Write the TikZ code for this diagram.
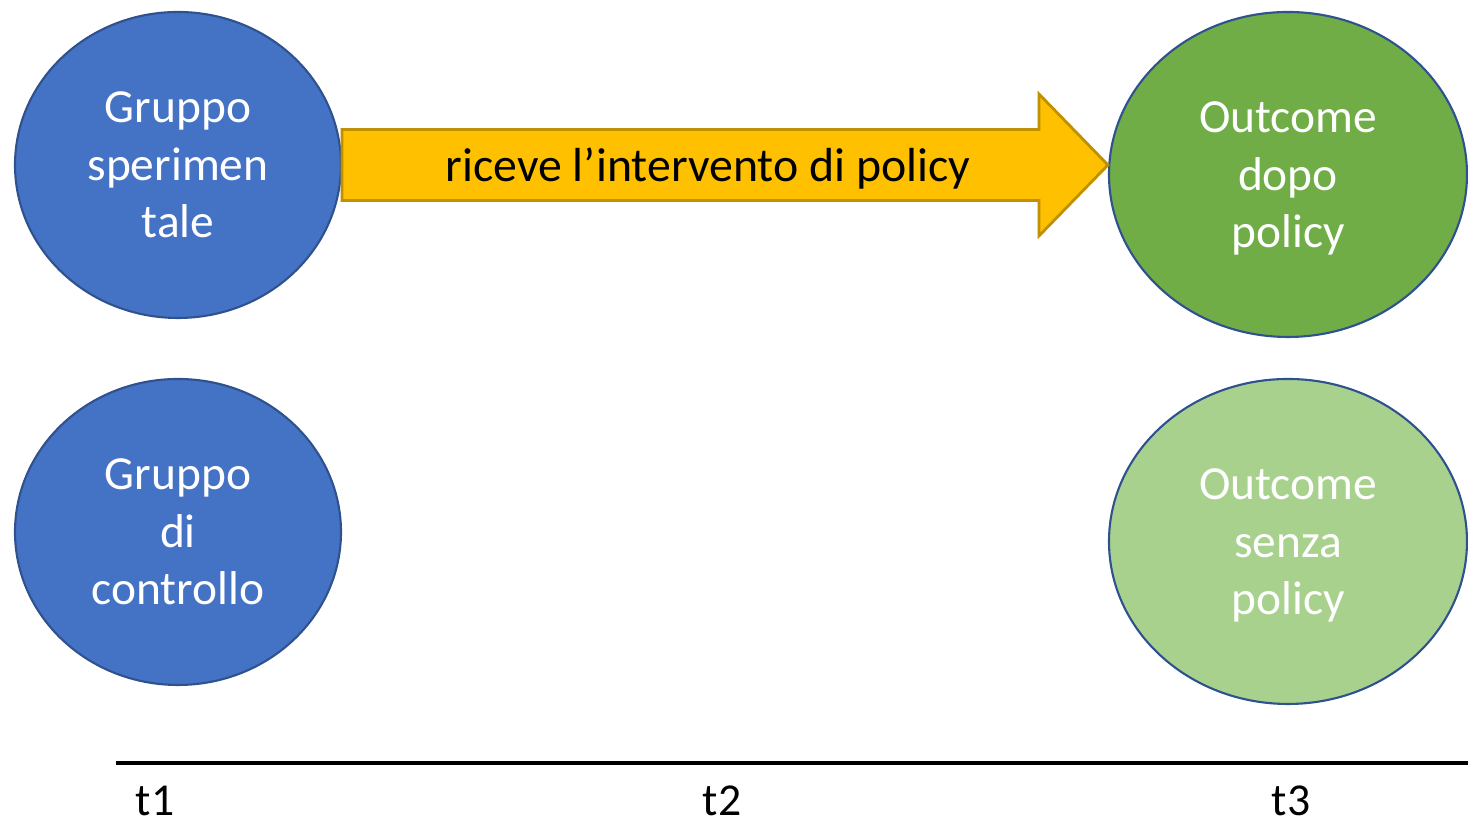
\documentclass[tikz,border=0pt]{standalone}
\usepackage{fontspec}
\setmainfont{Carlito}
\usetikzlibrary{shapes.geometric, calc}

\definecolor{grpblue}{HTML}{4472C4}
\definecolor{rimblue}{HTML}{2F528F}
\definecolor{outgreen}{HTML}{70AD47}
\definecolor{palegreen}{HTML}{A9D18E}
\definecolor{arrowgold}{HTML}{FFC000}
\definecolor{arrowrim}{HTML}{BF9000}

% three centred lines, pushed a little below the middle
\newcommand{\lowstack}[3]{\raisebox{-0.17cm}[0pt][0pt]{\begin{tabular}{@{}c@{}}#1\\#2\\#3\end{tabular}}}

\begin{document}
\begin{tikzpicture}
            [blob/.style={shape=ellipse, draw=rimblue, line width=0.6pt, text=white, align=center,
                font=\fontsize{13.5}{16.3}\selectfont, inner sep=0pt},
             timelbl/.style={font=\fontsize{13}{15}\selectfont, inner sep=0pt, anchor=base}]
            \useasboundingbox (0, 0) rectangle (14.68, 8.21);

            \node[blob, fill=grpblue, minimum width=3.26cm, minimum height=3.06cm] (gsper) at (1.78, 6.56) {Gruppo\\sperimen\\tale};
            \node[blob, fill=grpblue, minimum width=3.26cm, minimum height=3.06cm] (gctrl) at (1.78, 2.89) {Gruppo\\di\\controllo};
            \node[blob, fill=outgreen, minimum width=3.58cm, minimum height=3.25cm] (odopo) at (12.88, 6.465) {\lowstack{Outcome}{dopo}{policy}};
            \node[blob, fill=palegreen, minimum width=3.58cm, minimum height=3.25cm] (osenza) at (12.88, 2.795) {\lowstack{Outcome}{senza}{policy}};

            % block arrow from the treated group to its outcome
            \coordinate (tail) at (gsper.east);
            \coordinate (tip) at (odopo.west |- gsper.east);
            \draw[fill=arrowgold, draw=arrowrim, line width=0.8pt, line join=miter]
                ($(tail)+(0, 0.355)$) -- ($(tip)+(-0.69, 0.355)$) -- ($(tip)+(-0.69, 0.71)$)
                -- (tip) -- ($(tip)+(-0.69, -0.71)$) -- ($(tip)+(-0.69, -0.355)$)
                -- ($(tail)+(0, -0.355)$) -- cycle;
            \node[font=\fontsize{13.6}{16}\selectfont, inner sep=0pt] (lbl) at ($(tail)!0.5!(tip)+(-0.17, -0.04)$) {riceve l’intervento di policy};

            % time axis
            \coordinate (axl) at (1.16, 0.58);
            \coordinate (axr) at (14.68, 0.58);
            \draw[line width=0.9pt] (axl) -- (axr);
            \node[timelbl] (t1) at (1.55, 0.05) {t1};
            \node[timelbl] (t2) at (7.22, 0.05) {t2};
            \node[timelbl] (t3) at (12.91, 0.05) {t3};
        \end{tikzpicture}
\end{document}
